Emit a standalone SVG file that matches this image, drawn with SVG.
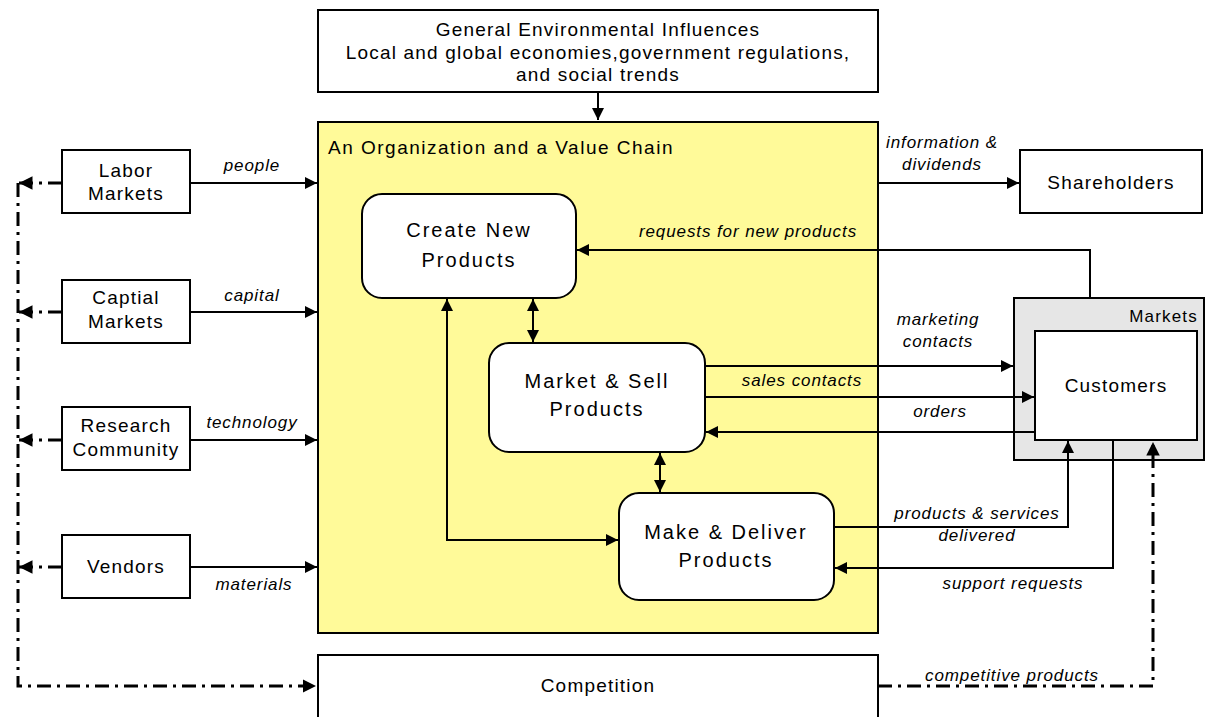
<svg xmlns="http://www.w3.org/2000/svg" width="1207" height="717" viewBox="0 0 1207 717">
<style>
.box{fill:#fff;stroke:#000;stroke-width:2}
.rbox{fill:#fff;stroke:#000;stroke-width:2}
.t{font-family:"Liberation Sans",Arial,sans-serif;font-size:19px;letter-spacing:1.2px;fill:#000;text-anchor:middle}
.r{font-size:20px;letter-spacing:2px}
.l{font-family:"Liberation Sans",Arial,sans-serif;font-size:17px;letter-spacing:0.9px;font-style:italic;fill:#000;text-anchor:middle}
.c{fill:none;stroke:#000;stroke-width:2}
.dd{fill:none;stroke:#000;stroke-width:3;stroke-dasharray:14,6,3,6}
</style>
<defs>
<marker id="a" viewBox="0 0 10 10" refX="10" refY="5" markerWidth="6" markerHeight="6" orient="auto-start-reverse" markerUnits="strokeWidth">
<path d="M0,0 L10,5 L0,10 z" fill="#000"/>
</marker>
<marker id="ad" viewBox="0 0 10 10" refX="10" refY="5" markerWidth="4.5" markerHeight="4.5" orient="auto-start-reverse" markerUnits="strokeWidth">
<path d="M0,0 L10,5 L0,10 z" fill="#000"/>
</marker>
</defs>

<g id="env">
<rect class="box" x="318" y="10" width="560" height="82"/>
<text class="t" x="598" y="36">General Environmental Influences</text>
<text class="t" x="598" y="59">Local and global economies,government regulations,</text>
<text class="t" x="598" y="81">and social trends</text>
</g>

<g id="org">
<rect x="318" y="122" width="560" height="511" fill="#fffa99" stroke="#000" stroke-width="2"/>
<text class="t" x="328" y="154" style="text-anchor:start;letter-spacing:1.5px">An Organization and a Value Chain</text>
</g>

<g id="competition">
<rect class="box" x="318" y="655" width="560" height="70"/>
<text class="t" x="598" y="692">Competition</text>
</g>

<g id="labor">
<rect class="box" x="62" y="150" width="128" height="63"/>
<text class="t" x="126" y="177">Labor</text>
<text class="t" x="126" y="200">Markets</text>
</g>
<g id="capital">
<rect class="box" x="62" y="280" width="128" height="63"/>
<text class="t" x="126" y="304">Captial</text>
<text class="t" x="126" y="328">Markets</text>
</g>
<g id="research">
<rect class="box" x="62" y="407" width="128" height="63"/>
<text class="t" x="126" y="432">Research</text>
<text class="t" x="126" y="456">Community</text>
</g>
<g id="vendors">
<rect class="box" x="62" y="535" width="128" height="63"/>
<text class="t" x="126" y="573">Vendors</text>
</g>

<g id="shareholders">
<rect class="box" x="1020" y="150" width="182" height="63"/>
<text class="t" x="1111" y="189">Shareholders</text>
</g>

<g id="markets">
<rect x="1014" y="298" width="190" height="162" fill="#e6e6e6" stroke="#000" stroke-width="2"/>
<text class="t" x="1198" y="322" style="text-anchor:end;font-size:17px">Markets</text>
</g>
<g id="customers">
<rect class="box" x="1035" y="331" width="162" height="109"/>
<text class="t" x="1116" y="392">Customers</text>
</g>

<g id="create">
<rect class="rbox" x="362" y="194" width="214" height="104" rx="20"/>
<text class="t r" x="469" y="237">Create New</text>
<text class="t r" x="469" y="267">Products</text>
</g>
<g id="market">
<rect class="rbox" x="489" y="343" width="216" height="109" rx="20"/>
<text class="t r" x="597" y="388">Market &amp; Sell</text>
<text class="t r" x="597" y="416">Products</text>
</g>
<g id="make">
<rect class="rbox" x="619" y="493" width="215" height="107" rx="20"/>
<text class="t r" x="726" y="539">Make &amp; Deliver</text>
<text class="t r" x="726" y="567">Products</text>
</g>

<g id="connectors">
<path class="c" d="M598,92 V120" marker-end="url(#a)"/>
<path class="c" d="M190,183 H317" marker-end="url(#a)"/>
<path class="c" d="M190,312 H317" marker-end="url(#a)"/>
<path class="c" d="M190,440 H317" marker-end="url(#a)"/>
<path class="c" d="M190,567 H317" marker-end="url(#a)"/>
<path class="c" d="M878,183 H1019" marker-end="url(#a)"/>
<path class="c" d="M1090,298 V250 H577" marker-end="url(#a)"/>
<path class="c" d="M533,299 V342" marker-start="url(#a)" marker-end="url(#a)"/>
<path class="c" d="M660,453 V492" marker-start="url(#a)" marker-end="url(#a)"/>
<path class="c" d="M447,299 V540 H618" marker-start="url(#a)" marker-end="url(#a)"/>
<path class="c" d="M705,366 H1013" marker-end="url(#a)"/>
<path class="c" d="M705,397 H1034" marker-end="url(#a)"/>
<path class="c" d="M1035,432 H706" marker-end="url(#a)"/>
<path class="c" d="M834,527 H1068 V441" marker-end="url(#a)"/>
<path class="c" d="M1113,440 V568 H835" marker-end="url(#a)"/>

<path class="dd" d="M62,183 H19" marker-end="url(#ad)"/>
<path class="dd" d="M62,312 H19" marker-end="url(#ad)"/>
<path class="dd" d="M62,440 H19" marker-end="url(#ad)"/>
<path class="dd" d="M62,567 H19" marker-end="url(#ad)"/>
<path class="dd" d="M18,183 V686 H316" marker-end="url(#ad)"/>
<path class="dd" d="M878,686 H1153 V442" marker-end="url(#ad)"/>

<text class="l" x="252" y="171">people</text>
<text class="l" x="252" y="301">capital</text>
<text class="l" x="252" y="428">technology</text>
<text class="l" x="254" y="590">materials</text>
<text class="l" x="942" y="148">information &amp;</text>
<text class="l" x="942" y="170">dividends</text>
<text class="l" x="748" y="237">requests for new products</text>
<text class="l" x="938" y="325">marketing</text>
<text class="l" x="938" y="347">contacts</text>
<text class="l" x="802" y="386">sales contacts</text>
<text class="l" x="940" y="417">orders</text>
<text class="l" x="977" y="519">products &amp; services</text>
<text class="l" x="977" y="541">delivered</text>
<text class="l" x="1013" y="589">support requests</text>
<text class="l" x="1012" y="681">competitive products</text>
</g>
</svg>
